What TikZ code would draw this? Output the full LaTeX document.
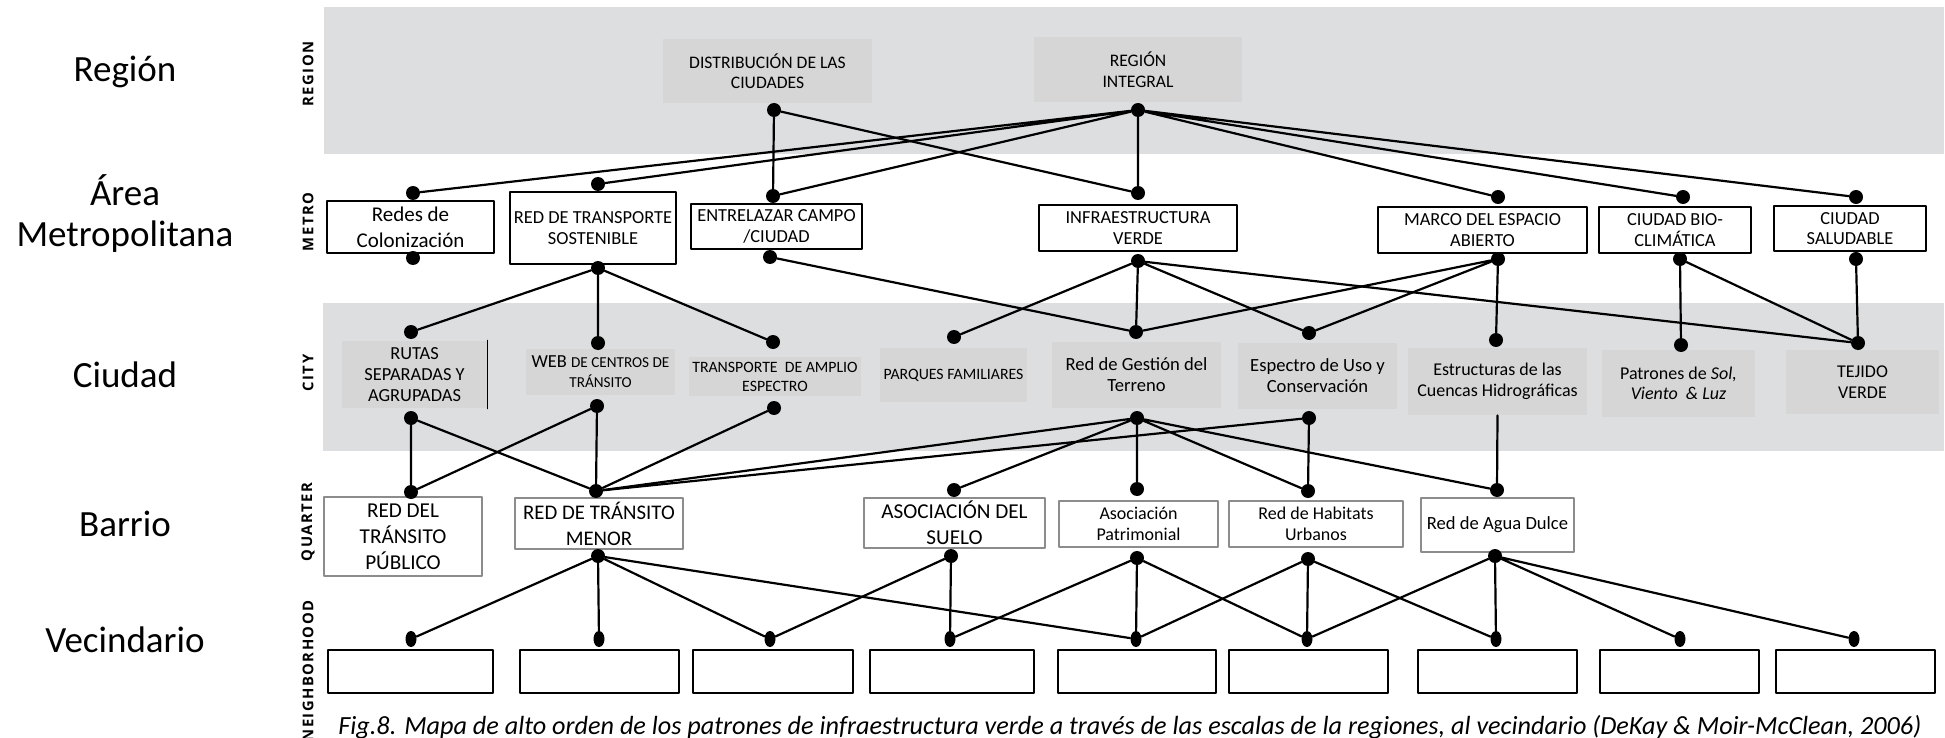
\documentclass[tikz,border=0pt]{standalone}
\usepackage{fontspec}
\setmainfont{Carlito}
\newfontfamily\scalefont[LetterSpace=10]{Open Sans}
\usetikzlibrary{shapes.geometric}
\definecolor{bandgray}{HTML}{DDDEE0}
\definecolor{boxgray}{HTML}{D6D6D6}
\definecolor{quartergray}{HTML}{8C8C8C}
\begin{document}
\begin{tikzpicture}[x=0.5pt, y=-0.5pt, line join=round, line cap=round,
	graybox/.style={fill=boxgray, align=center, inner sep=0pt},
	whitebox/.style={draw=black, line width=0.6pt, fill=white, align=center, inner sep=0pt, font=\fontsize{9.2}{10.3}\selectfont},
	quarterbox/.style={draw=quartergray, line width=1.4pt, fill=white, align=center, inner sep=0pt},
	neighbox/.style={draw=black, line width=1pt, fill=white, minimum height=21.5pt, inner sep=0pt},
	dot/.style={circle, fill=black, inner sep=0pt, minimum size=7pt},
	ndot/.style={ellipse, fill=black, inner sep=0pt, minimum width=5.5pt, minimum height=8pt},
	link/.style={line width=1.1pt},
	scalename/.style={rotate=90, font=\scalefont\bfseries\fontsize{7.4}{9}\selectfont},
	levelname/.style={font=\fontsize{18.5}{20.5}\selectfont, align=center}]
	\useasboundingbox (0,0) rectangle (1945,738);
	\fill[bandgray] (324,7) rectangle (1944,154);
	\fill[bandgray] (323,303) rectangle (1944,451);

	\node[levelname, anchor=base] (lregion) at (125,82) {Región};
	\node[levelname] (lmetro) at (125,214) {Área\\Metropolitana};
	\node[levelname, anchor=base] (lcity) at (125,387) {Ciudad};
	\node[levelname, anchor=base] (lquarter) at (125,536) {Barrio};
	\node[levelname, anchor=base] (lneigh) at (125,652) {Vecindario};

	\node[scalename] (sregion) at (308,74) {REGION};
	\node[scalename] (smetro) at (308,222) {METRO};
	\node[scalename] (scity) at (308,373) {CITY};
	\node[scalename] (squarter) at (308,522) {QUARTER};
	\node[scalename] (sneigh) at (308,671) {NEIGHBORHOOD};

	\node[graybox, minimum width=104.5pt, minimum height=32pt, font=\fontsize{8.8}{10}\selectfont] (dist) at (767.5,71) {DISTRIBUCIÓN DE LAS\\CIUDADES};
	\node[graybox, minimum width=104pt, minimum height=32.5pt, font=\fontsize{8.8}{10.5}\selectfont] (regint) at (1138,69.5) {REGIÓN\\INTEGRAL};
	\node[dot] (dist-b) at (774,110) {};
	\node[dot] (regint-b) at (1138,110) {};

	\node[whitebox, minimum width=83.5pt, minimum height=26pt, font=\fontsize{10.5}{13}\selectfont] (redes) at (410.5,227) {Redes de\\Colonización};
	\node[whitebox, minimum width=83pt, minimum height=36pt] (redtr) at (593,228) {RED DE TRANSPORTE\\SOSTENIBLE};
	\node[whitebox, minimum width=85.5pt, minimum height=22.5pt] (entre) at (776.5,226.5) {ENTRELAZAR CAMPO\\/CIUDAD};
	\node[whitebox, minimum width=99pt, minimum height=23pt] (infra) at (1138,228) {INFRAESTRUCTURA\\VERDE};
	\node[whitebox, minimum width=104.5pt, minimum height=23pt] (marco) at (1482.5,230) {MARCO DEL ESPACIO\\ABIERTO};
	\node[whitebox, minimum width=76pt, minimum height=23pt] (bio) at (1675,230) {CIUDAD BIO-\\CLIMÁTICA};
	\node[whitebox, minimum width=76pt, minimum height=22.5pt] (salud) at (1850,228.5) {CIUDAD\\SALUDABLE};
	\node[dot] (redes-t) at (413,193) {};
	\node[dot] (redes-b) at (413,258) {};
	\node[dot] (redtr-t) at (598,184) {};
	\node[dot] (redtr-b) at (598,268) {};
	\node[dot] (entre-t) at (773,196) {};
	\node[dot] (entre-b) at (770,257) {};
	\node[dot] (infra-t) at (1138,193) {};
	\node[dot] (infra-b) at (1138,261) {};
	\node[dot] (marco-t) at (1498,197) {};
	\node[dot] (marco-b) at (1498,259) {};
	\node[dot] (bio-t) at (1683,197) {};
	\node[dot] (bio-b) at (1680,259) {};
	\node[dot] (salud-t) at (1856,197) {};
	\node[dot] (salud-b) at (1856,259) {};

	\node[graybox, minimum width=72.5pt, minimum height=33.5pt, font=\fontsize{9.2}{10.5}\selectfont] (rutas) at (414.5,374.5) {RUTAS\\SEPARADAS Y\\AGRUPADAS};
	\node[graybox, minimum width=74.5pt, minimum height=23pt, font=\fontsize{9.2}{10}\selectfont] (web) at (600.5,372) {WEB {\fontsize{7.6}{9}\selectfont DE CENTROS DE}\\{\fontsize{7.6}{9}\selectfont TRÁNSITO}};
	\node[graybox, minimum width=86pt, minimum height=19.5pt, font=\fontsize{7.9}{9.5}\selectfont] (transamp) at (775,376.5) {TRANSPORTE\ \ DE AMPLIO\\ESPECTRO};
	\node[graybox, minimum width=73.5pt, minimum height=27pt, font=\fontsize{7.9}{9.5}\selectfont] (parques) at (953.5,375) {PARQUES FAMILIARES};
	\node[graybox, minimum width=84.5pt, minimum height=33pt, font=\fontsize{9.3}{10.5}\selectfont] (gestion) at (1136.5,375) {Red de Gestión del\\Terreno};
	\node[graybox, minimum width=79.5pt, minimum height=33pt, font=\fontsize{9.3}{10.5}\selectfont] (espectro) at (1317.5,376) {Espectro de Uso y\\Conservación};
	\node[graybox, minimum width=89.5pt, minimum height=33.5pt, font=\fontsize{9}{10.3}\selectfont] (cuencas) at (1497.5,381.5) {Estructuras de las\\Cuencas Hidrográficas};
	\node[graybox, minimum width=76.5pt, minimum height=33.5pt, font=\fontsize{9}{10.3}\selectfont] (patrones) at (1678.5,383.5) {Patrones de \textit{Sol,}\\\textit{Viento\ \ \& Luz}};
	\node[graybox, minimum width=76.5pt, minimum height=32pt, font=\fontsize{9}{10.3}\selectfont] (tejido) at (1862.5,382) {TEJIDO\\VERDE};
	\draw[line width=0.9pt] (rutas.north east) -- (rutas.south east);
	\node[dot] (rutas-t) at (411,332) {};
	\node[dot] (rutas-b) at (411,418) {};
	\node[dot] (web-t) at (598,343) {};
	\node[dot] (web-b) at (597,406) {};
	\node[dot] (transamp-t) at (773,342) {};
	\node[dot] (transamp-b) at (774,408) {};
	\node[dot] (parques-t) at (954,337) {};
	\node[dot] (gestion-t) at (1136,332) {};
	\node[dot] (gestion-b) at (1137,418) {};
	\node[dot] (espectro-t) at (1309,333) {};
	\node[dot] (espectro-b) at (1309,418) {};
	\node[dot] (cuencas-t) at (1496,340) {};
	\node[dot] (patrones-t) at (1681,345) {};
	\node[dot] (tejido-t) at (1858,343) {};

	\node[quarterbox, minimum width=79pt, minimum height=39.5pt, font=\fontsize{10.6}{13}\selectfont] (publico) at (403,536.5) {RED DEL\\TRÁNSITO\\PÚBLICO};
	\node[quarterbox, minimum width=84pt, minimum height=25.5pt, font=\fontsize{10.4}{13}\selectfont] (menor) at (599,523.5) {RED DE TRÁNSITO\\MENOR};
	\node[quarterbox, minimum width=90.5pt, minimum height=25pt, font=\fontsize{10.6}{13}\selectfont] (suelo) at (954.5,523) {ASOCIACIÓN DEL\\SUELO};
	\node[quarterbox, minimum width=79.5pt, minimum height=23pt, font=\fontsize{9}{10.5}\selectfont] (patrim) at (1138.5,524) {Asociación\\Patrimonial};
	\node[quarterbox, minimum width=87pt, minimum height=23pt, font=\fontsize{9}{10.5}\selectfont] (habitat) at (1316,524) {Red de Habitats\\Urbanos};
	\node[quarterbox, minimum width=76.5pt, minimum height=27pt, font=\fontsize{9.3}{10.5}\selectfont] (agua) at (1497.5,525) {Red de Agua Dulce};
	\node[dot] (publico-t) at (411,492) {};
	\node[dot] (menor-t) at (596,491) {};
	\node[dot] (menor-b) at (598,556) {};
	\node[dot] (suelo-t) at (954,490) {};
	\node[dot] (suelo-b) at (951,556) {};
	\node[dot] (patrim-t) at (1137,489) {};
	\node[dot] (patrim-b) at (1137,558) {};
	\node[dot] (habitat-t) at (1308,491) {};
	\node[dot] (habitat-b) at (1308,559) {};
	\node[dot] (agua-t) at (1497,490) {};
	\node[dot] (agua-b) at (1495,556) {};

	\node[neighbox, minimum width=82.5pt] (n1) at (410.5,671.5) {};
	\node[neighbox, minimum width=79.5pt] (n2) at (599.5,671.5) {};
	\node[neighbox, minimum width=80pt] (n3) at (773,671.5) {};
	\node[neighbox, minimum width=82pt] (n4) at (952,671.5) {};
	\node[neighbox, minimum width=79pt] (n5) at (1137,671.5) {};
	\node[neighbox, minimum width=79.5pt] (n6) at (1308.5,671.5) {};
	\node[neighbox, minimum width=79.5pt] (n7) at (1497.5,671.5) {};
	\node[neighbox, minimum width=79.5pt] (n8) at (1679.5,671.5) {};
	\node[neighbox, minimum width=79.5pt] (n9) at (1855.5,671.5) {};
	\node[ndot] (n1-t) at (411,639) {};
	\node[ndot] (n2-t) at (599,639) {};
	\node[ndot] (n3-t) at (770,639) {};
	\node[ndot] (n4-t) at (950,639) {};
	\node[ndot] (n5-t) at (1136,639) {};
	\node[ndot] (n6-t) at (1307,639) {};
	\node[ndot] (n7-t) at (1496,639) {};
	\node[ndot] (n8-t) at (1680,639) {};
	\node[ndot] (n9-t) at (1854,639) {};

	\draw[link] (dist-b) -- (entre-t) (dist-b) -- (infra-t);
	\draw[link] (regint-b) -- (redes-t) (regint-b) -- (redtr-t) (regint-b) -- (entre-t) (regint-b) -- (infra-t) (regint-b) -- (marco-t) (regint-b) -- (bio-t) (regint-b) -- (salud-t);

	\draw[link] (redtr-b) -- (rutas-t) (redtr-b) -- (web-t) (redtr-b) -- (transamp-t);
	\draw[link] (entre-b) -- (gestion-t);
	\draw[link] (infra-b) -- (parques-t) (infra-b) -- (gestion-t) (infra-b) -- (espectro-t) (infra-b) -- (tejido-t);
	\draw[link] (marco-b) -- (gestion-t) (marco-b) -- (espectro-t) (marco-b) -- (cuencas-t);
	\draw[link] (bio-b) -- (patrones-t) (bio-b) -- (tejido-t);
	\draw[link] (salud-b) -- (tejido-t);

	\draw[link] (rutas-b) -- (publico-t) (rutas-b) -- (menor-t);
	\draw[link] (web-b) -- (publico-t) (web-b) -- (menor-t);
	\draw[link] (transamp-b) -- (menor-t);
	\draw[link] (gestion-b) -- (menor-t) (gestion-b) -- (suelo-t) (gestion-b) -- (patrim-t) (gestion-b) -- (habitat-t) (gestion-b) -- (agua-t);
	\draw[link] (espectro-b) -- (menor-t) (espectro-b) -- (habitat-t);
	\draw[link] (cuencas.south) -- (agua-t);

	\draw[link] (menor-b) -- (n1-t) (menor-b) -- (n2-t) (menor-b) -- (n3-t) (menor-b) -- (n5-t);
	\draw[link] (suelo-b) -- (n3-t) (suelo-b) -- (n4-t);
	\draw[link] (patrim-b) -- (n4-t) (patrim-b) -- (n5-t) (patrim-b) -- (n6-t);
	\draw[link] (habitat-b) -- (n5-t) (habitat-b) -- (n6-t) (habitat-b) -- (n7-t);
	\draw[link] (agua-b) -- (n6-t) (agua-b) -- (n7-t) (agua-b) -- (n8-t) (agua-b) -- (n9-t);

	\node[anchor=base west, inner sep=0pt, font=\itshape\fontsize{13.1}{15}\selectfont] (caption) at (338,734) {Fig.8. Mapa de alto orden de los patrones de infraestructura verde a través de las escalas de la regiones, al vecindario (DeKay \& Moir-McClean, 2006)};
\end{tikzpicture}
\end{document}
